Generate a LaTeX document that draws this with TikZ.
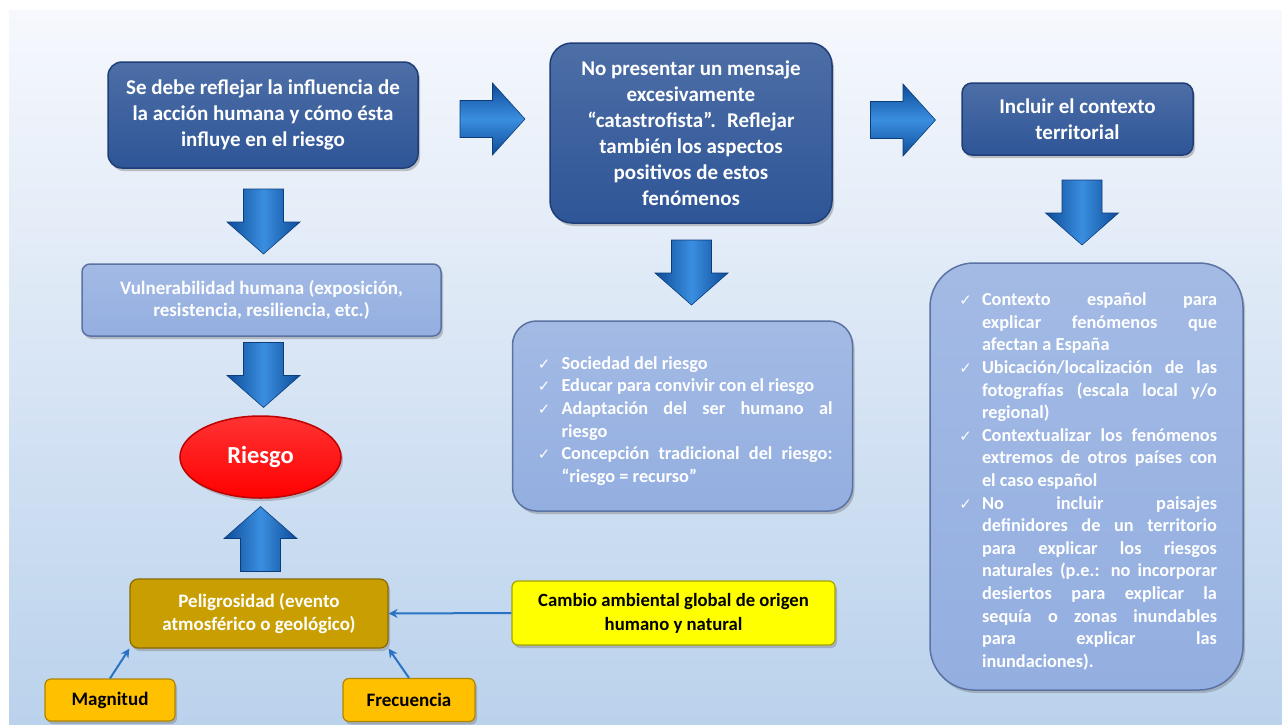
\documentclass[tikz,border=0pt]{standalone}
\usepackage{fontspec}
\setmainfont{Carlito}
\newfontfamily\symbfont{DejaVu Sans}
\usepackage{enumitem}
\usepackage{tikz}
\usetikzlibrary{shapes.geometric,shadows,arrows.meta}

\definecolor{bgtop}{HTML}{F6F8FD}
\definecolor{bgbot}{HTML}{BAD2EC}
\definecolor{darkfill}{HTML}{2E5597}
\definecolor{darkline}{HTML}{1F3E78}
\definecolor{lightfill}{HTML}{93AEE0}
\definecolor{lightline}{HTML}{5B73A3}
\definecolor{goldfill}{HTML}{C89E00}
\definecolor{goldline}{HTML}{8A6B00}
\definecolor{amberfill}{HTML}{FFC000}
\definecolor{amberline}{HTML}{B08500}
\definecolor{yellowfill}{HTML}{FFFF00}
\definecolor{yellowline}{HTML}{A3A300}
\definecolor{arrowdark}{HTML}{0E4C98}
\definecolor{arrowlight}{HTML}{3A8EE0}
\definecolor{linkblue}{HTML}{2A72C4}

\newcommand{\chk}{{\symbfont\mdseries\fontsize{15}{15}\selectfont ✓}}

\tikzset{
  pics/fatdown/.style={code={
    \shade[draw=arrowdark!80!black, line width=.6pt, left color=arrowdark, right color=arrowdark, middle color=arrowlight]
      (-20,32.5) -- (20,32.5) -- (20,-0.5) -- (36.5,-0.5) -- (0,-32.5) -- (-36.5,-0.5) -- (-20,-0.5) -- cycle;
  }},
  pics/fatright/.style={code={
    \shade[draw=arrowdark!80!black, line width=.6pt, top color=arrowdark, bottom color=arrowdark, middle color=arrowlight]
      (-32.5,18.5) -- (0,18.5) -- (0,36) -- (32.5,0) -- (0,-36) -- (0,-18.5) -- (-32.5,-18.5) -- cycle;
  }}
}

\begin{document}
\begin{tikzpicture}[x=1pt, y=1pt,
    shadowed/.style={drop shadow={shadow xshift=2pt, shadow yshift=-3pt, opacity=.45}},
    darkbox/.style={draw=darkline, line width=1.5pt, top color=darkfill!85!white, bottom color=darkfill,
      rounded corners=14pt, text=white, align=center, shadowed,
      font=\bfseries\fontsize{21}{26}\selectfont},
    lightbox/.style={draw=lightline, line width=1.5pt, top color=lightfill!85!white, bottom color=lightfill,
      text=white, shadowed, font=\bfseries\fontsize{18.3}{22.6}\selectfont},
    goldbox/.style={draw=goldline, line width=1.2pt, fill=goldfill, rounded corners=8pt, text=white,
      align=center, shadowed, font=\bfseries\fontsize{19}{23}\selectfont},
    tagbox/.style={draw=#1line, line width=1.2pt, fill=#1fill, rounded corners=6pt, text=black,
      align=center, shadowed, font=\bfseries\fontsize{19}{23}\selectfont},
    link/.style={draw=linkblue, line width=2pt, -{Stealth[length=9pt, width=9pt]}}]

  \useasboundingbox (0,0) rectangle (1282,-724);
  \fill[white] (0,0) rectangle (1282,-724);
  \shade[top color=bgtop, bottom color=bgbot] (9,-10) rectangle (1282,-724);

  % top row
  \node (A) at (263,-115) [darkbox, minimum width=310, minimum height=106]
    {Se debe reflejar la influencia de\\la acción humana y cómo ésta\\influye en el riesgo};
  \node (B) at (691,-133) [darkbox, rounded corners=22pt, minimum width=282, minimum height=180]
    {No presentar un mensaje\\excesivamente\\“catastrofista”.~ Reflejar\\también los aspectos\\positivos de estos\\fenómenos};
  \node (C) at (1077.5,-119) [darkbox, rounded corners=10pt, minimum width=231, minimum height=72]
    {Incluir el contexto\\territorial};

  % left column
  \node (D) at (261.5,-300) [lightbox, font=\bfseries\fontsize{19}{22.6}\selectfont, rounded corners=8pt,
    align=center, minimum width=359, minimum height=72]
    {Vulnerabilidad humana (exposición,\\resistencia, resiliencia, etc.)};
  \node (R) at (260.5,-457) [ellipse, draw=red!75!black, line width=1.5pt, top color=red!80!white, bottom color=red,
    shadowed, minimum width=161, minimum height=82, text=white, font=\bfseries\fontsize{24.5}{26}\selectfont] {Riesgo};
  \node (P) at (259,-613.5) [goldbox, minimum width=258, minimum height=69]
    {Peligrosidad (evento\\atmosférico o geológico)};
  \node (M) at (110,-700) [tagbox=amber, minimum width=130, minimum height=42] {Magnitud};
  \node (F) at (409,-700) [tagbox=amber, minimum width=132, minimum height=43] {Frecuencia};
  \node (G) at (673.5,-613) [tagbox=yellow, font=\bfseries\fontsize{18.7}{24}\selectfont, minimum width=323, minimum height=64]
    {Cambio ambiental global de origen\\humano y natural};

  % lists
  \node (E) at (682.5,-416) [lightbox, align=justify, rounded corners=24pt, minimum width=340, minimum height=190, text width=300]
    {\begin{itemize}[label=\chk, leftmargin=29pt, labelsep=11pt, nosep]
      \item Sociedad del riesgo
      \item Educar para convivir con el riesgo
      \item Adaptación del ser humano al\linebreak riesgo
      \item Concepción tradicional del riesgo:\linebreak “riesgo = recurso”
    \end{itemize}};
  \node (T) at (1086.5,-476.5) [lightbox, align=justify, rounded corners=44pt, minimum width=313, minimum height=427, text width=261]
    {\begin{itemize}[label=\chk, leftmargin=26pt, labelsep=10pt, nosep]
      \item Contexto español para\linebreak explicar fenómenos que\linebreak afectan a España
      \item Ubicación/localización de las\linebreak fotografías (escala local y/o\linebreak regional)
      \item Contextualizar los fenómenos\linebreak extremos de otros países con\linebreak el caso español
      \item No incluir paisajes\linebreak definidores de un territorio\linebreak para explicar los riesgos\linebreak naturales (p.e.: no incorporar\linebreak desiertos para explicar la\linebreak sequía o zonas inundables\linebreak para explicar las\linebreak inundaciones).
    \end{itemize}};

  % block arrows
  \pic at (492.5,-119) {fatright};
  \pic at (903,-120) {fatright};
  \pic at (263.5,-221.5) {fatdown};
  \pic at (263.5,-375) {fatdown};
  \pic at (691.5,-272.5) {fatdown};
  \pic at (1082,-212.5) {fatdown};
  \pic[yscale=-1] at (260.5,-539) {fatdown};

  % thin links
  \draw[link] (M.north) -- (P.south west);
  \draw[link] (F.north) -- (P.south east);
  \draw[link] (G.west) -- (P.east);
\end{tikzpicture}
\end{document}
